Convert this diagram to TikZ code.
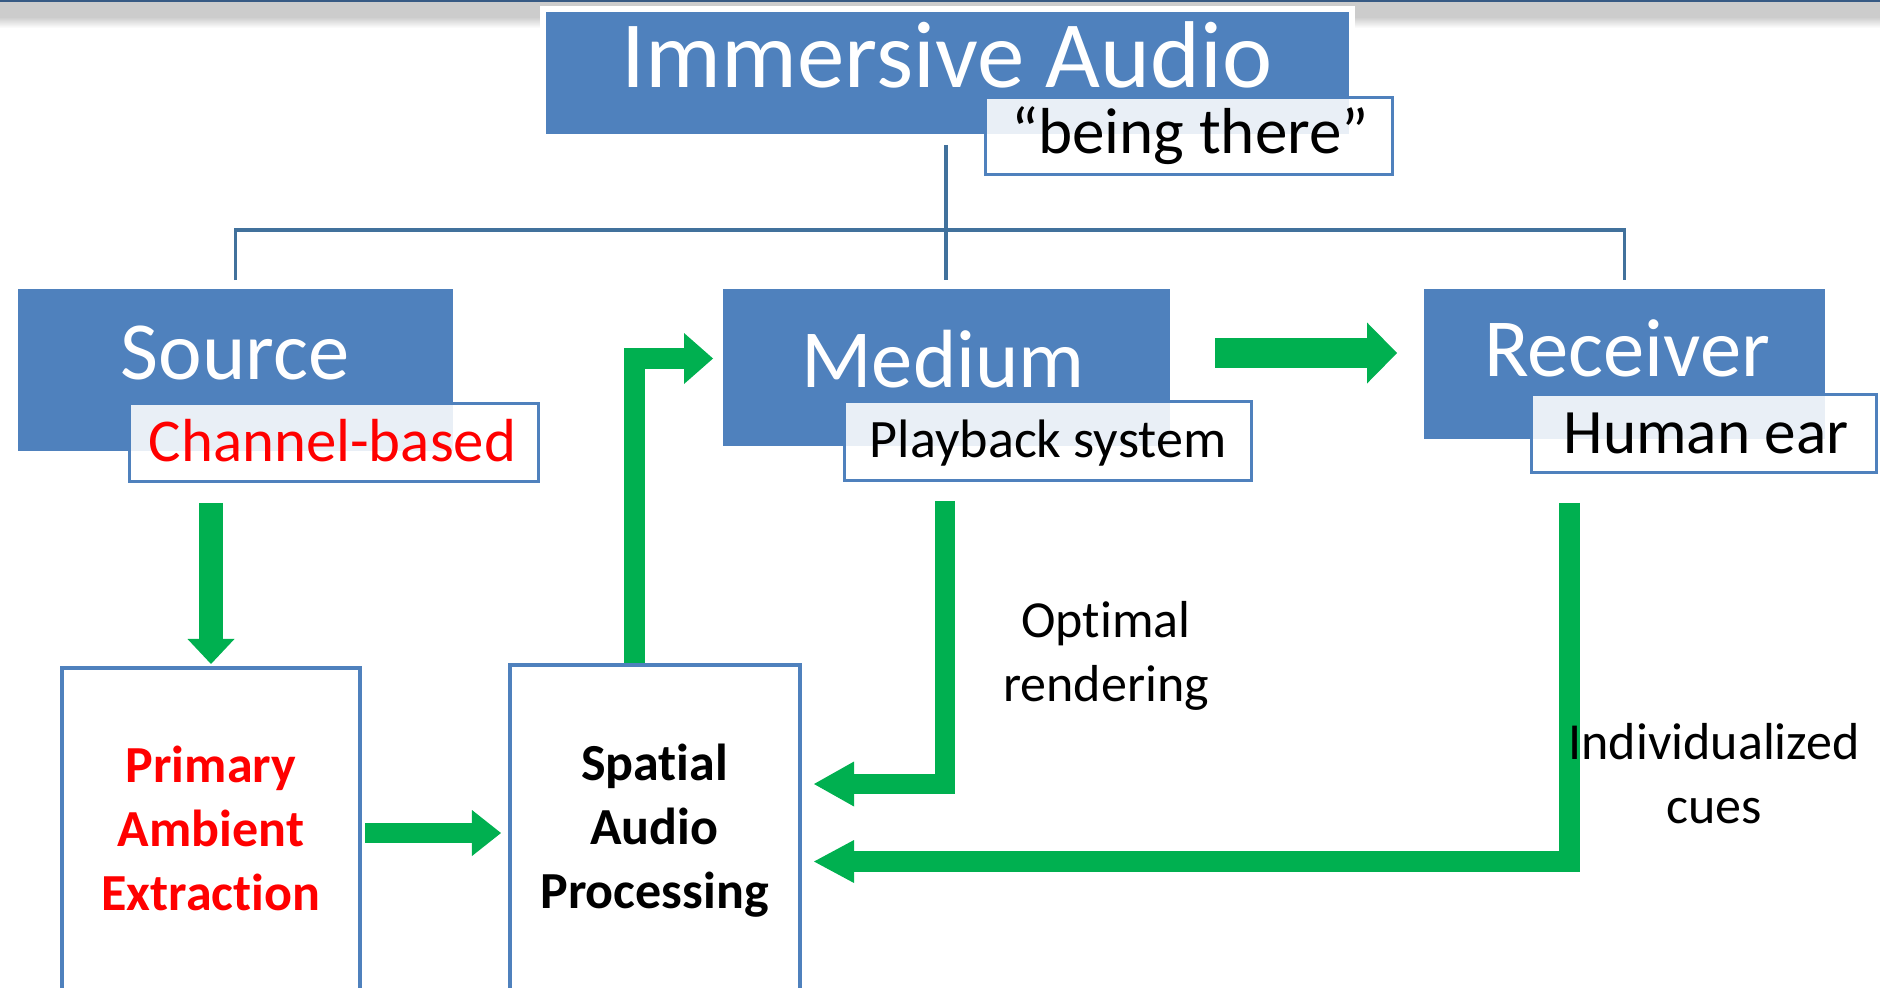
\documentclass[tikz,border=0pt]{standalone}
\usepackage{fontspec}
\setmainfont{Carlito}[Ligatures={TeX,NoCommon}]
\usetikzlibrary{arrows.meta,calc}
\definecolor{boxblue}{HTML}{4F81BD}
\definecolor{lineblue}{HTML}{41719C}
\definecolor{arrgreen}{HTML}{00B050}
\definecolor{txtred}{HTML}{FF0000}

\begin{document}
\begin{tikzpicture}[
    bluebox/.style={fill=boxblue,draw=white,line width=1.7pt,inner sep=0pt},
    subbox/.style={fill=white,fill opacity=0.88,draw=boxblue,line width=1pt,inner sep=0pt},
    stagebox/.style={fill=white,draw=boxblue,line width=1.15pt,inner sep=0pt},
    tree/.style={draw=lineblue,line width=1pt},
    garrow/.style n args={3}{draw=arrgreen,line width=#1,-{Triangle[width=#2,length=#3,line width=0pt]}},
    bigtxt/.style={white,anchor=base,font=\fontsize{23.5}{28}\selectfont},
    bodytxt/.style={align=center,font=\fontsize{14.8}{18.2}\selectfont}]
        \useasboundingbox(0,0)rectangle(18.8,-9.87);
        \fill[gray!40](0,0)rectangle(18.8,-0.17);
        \shade[top color=gray!40,bottom color=white](0,-0.17)rectangle(18.8,-0.28);
        \fill[boxblue!70!black](0,0)rectangle(18.8,-0.015);

        \node[bluebox,minimum width=8.09cm,minimum height=1.28cm](imm)at(9.475,-0.73){};
        \node[subbox,minimum width=4.07cm,minimum height=0.77cm](there)at(11.89,-1.36){};
        \node[white,anchor=base,font=\fontsize{27}{32}\selectfont](immtxt)at(9.47,-0.87){Immersive Audio};
        \node[anchor=base,font=\fontsize{18.5}{22}\selectfont](theretxt)at(11.90,-1.53){``being there''};

        \node[bluebox,minimum width=4.41cm,minimum height=1.68cm](src)at(2.355,-3.70){};
        \node[bluebox,minimum width=4.53cm,minimum height=1.63cm](med)at(9.465,-3.675){};
        \node[bluebox,minimum width=4.07cm,minimum height=1.56cm](rcv)at(16.245,-3.64){};
        \node[subbox,minimum width=4.09cm,minimum height=0.78cm](chan)at(3.34,-4.425){};
        \node[subbox,minimum width=4.07cm,minimum height=0.79cm](play)at(10.48,-4.41){};
        \node[subbox,minimum width=3.45cm,minimum height=0.78cm](ear)at(17.04,-4.335){};
        \node[bigtxt](srctxt)at(2.35,-3.79){Source};
        \node[bigtxt](medtxt)at(9.43,-3.87){Medium};
        \node[bigtxt](rcvtxt)at(16.27,-3.76){Receiver};
        \node[txtred,anchor=base,font=\fontsize{17.3}{21}\selectfont](chantxt)at(3.325,-4.61){Channel-based};
        \node[anchor=base,font=\fontsize{15.4}{19}\selectfont](playtxt)at(10.48,-4.57){Playback system};
        \node[anchor=base,font=\fontsize{18}{22}\selectfont](eartxt)at(17.06,-4.53){Human ear};

        \node[stagebox,minimum width=2.98cm,minimum height=3.32cm](prim)at(2.11,-8.34){};
        \node[stagebox,minimum width=2.90cm,minimum height=3.35cm](spa)at(6.55,-8.325){};
        \node[bodytxt,txtred,font=\fontsize{14.8}{18.2}\selectfont\bfseries](primtxt)at(2.11,-8.285){Primary\\Ambient\\Extraction};
        \node[bodytxt,font=\fontsize{14.8}{18.2}\selectfont\bfseries](spatxt)at(6.545,-8.31){Spatial\\Audio\\Processing};

        \coordinate(hub)at(9.46,-2.30);
        \draw[tree]($(hub|-imm.south)+(0,-0.05)$)--(hub);
        \draw[tree]($(src.north)+(0,0.03)$)|-(hub)-|($(rcv.north)+(0,0.03)$);
        \draw[tree](hub)--($(hub|-med.north)+(0,0.03)$);

        \draw[garrow={0.24cm}{0.47cm}{0.25cm}]($(prim.north|-chan.south)+(0,-0.195)$)--($(prim.north)+(0,0.02)$);
        \draw[garrow={0.20cm}{0.46cm}{0.29cm}]($(prim.east)+(0.03,0.01)$)--($(prim.east-|spa.west)+(-0.07,0.01)$);
        \draw[garrow={0.21cm}{0.51cm}{0.29cm}]($(spa.north)+(-0.21,0)$)|-($(med.west)+(-0.04,0.09)$);
        \draw[garrow={0.30cm}{0.61cm}{0.30cm}]($(med.east)+(0.39,0.145)$)--($(rcv.west)+(-0.21,0.11)$);
        \draw[garrow={0.20cm}{0.45cm}{0.40cm}]($(play.south-|med.south)+(-0.02,-0.185)$)|-($(spa.east)+(0.12,0.485)$);
        \draw[garrow={0.21cm}{0.43cm}{0.40cm}]($(ear.south)+(-1.35,-0.285)$)|-($(spa.east)+(0.12,-0.29)$);

        \node[bodytxt](opttxt)at(11.06,-6.56){Optimal\\rendering};
        \node[bodytxt](cuetxt)at(17.14,-7.735){Individualized\\cues};
    \end{tikzpicture}
\end{document}
